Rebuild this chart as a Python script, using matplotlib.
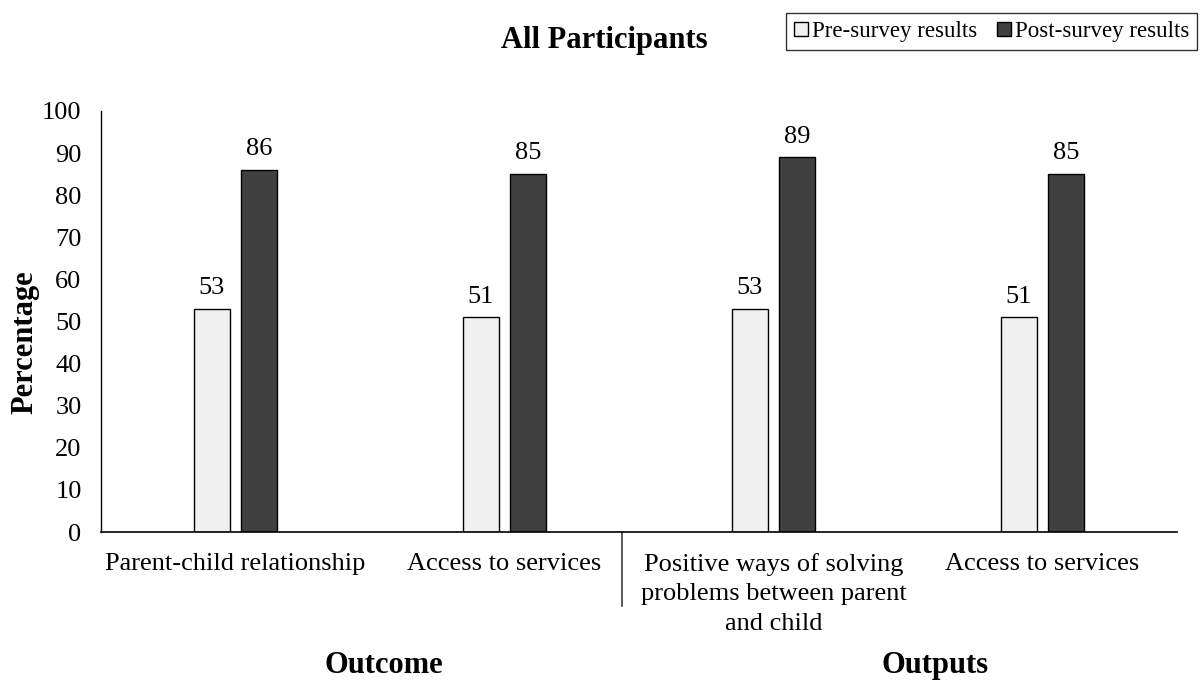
import numpy as np
import matplotlib.pyplot as plt
from matplotlib.transforms import blended_transform_factory

categories = ['Parent-child relationship', 'Access to services',
              'Positive ways of solving\nproblems between parent\nand child',
              'Access to services']
pre_survey = [53, 51, 53, 51]
post_survey = [86, 85, 89, 85]
groups = ['Outcome', 'Outputs']

plt.rcParams['font.family'] = ['Liberation Serif', 'DejaVu Serif']

fig = plt.figure(figsize=(12, 6.8), dpi=100)
ax = fig.add_axes([0.0842, 0.2176, 0.8966, 0.6192])

x = np.arange(len(categories))
w = 0.134
off = 0.0875
b1 = ax.bar(x - off, pre_survey, w, color='#f0f0f0', edgecolor='black', linewidth=1, label='Pre-survey results')
b2 = ax.bar(x + off, post_survey, w, color='#404040', edgecolor='black', linewidth=1, label='Post-survey results')
ax.bar_label(b1, padding=7, fontsize=19)
ax.bar_label(b2, padding=7, fontsize=19)

ax.set_xlim(-0.5, len(categories) - 0.5)
ax.set_ylim(0, 100)
ax.set_yticks(np.arange(0, 101, 10))
ax.set_xticks(x)
ax.set_xticklabels(categories, fontsize=19, linespacing=1.45, va='top')
ax.tick_params(axis='y', length=0, pad=14, labelsize=19)
ax.tick_params(axis='x', length=0, pad=15)
ax.spines['top'].set_visible(False)
ax.spines['right'].set_visible(False)
ax.spines['left'].set_linewidth(1)
ax.spines['bottom'].set_linewidth(1.2)

ax.set_ylabel('Percentage', fontsize=22, fontweight='bold')
ax.yaxis.set_label_coords(-0.057, 0.45)

# divider between the two groups
trans = blended_transform_factory(ax.transData, ax.transAxes)
ax.plot([1.437, 1.437], [0, -0.175], transform=trans, color='#404040', lw=1.2, clip_on=False)

# group labels
for gx, g in zip([0.55, 2.6], groups):
    ax.text(gx, -0.318, g, transform=trans, ha='center', va='center',
            fontsize=22, fontweight='bold')

fig.text(0.504, 0.941, 'All Participants', ha='center', va='center', fontsize=22, fontweight='bold')

leg = fig.legend(loc='upper right', bbox_to_anchor=(0.9975, 0.981), ncol=2, fontsize=16.5,
                 frameon=True, fancybox=False, edgecolor='black', handlelength=0.6,
                 handleheight=0.6, handletextpad=0.15, columnspacing=0.9, borderpad=0.35,
                 borderaxespad=0)
leg.get_frame().set_linewidth(1)

fig.savefig('out.png', dpi=100)
